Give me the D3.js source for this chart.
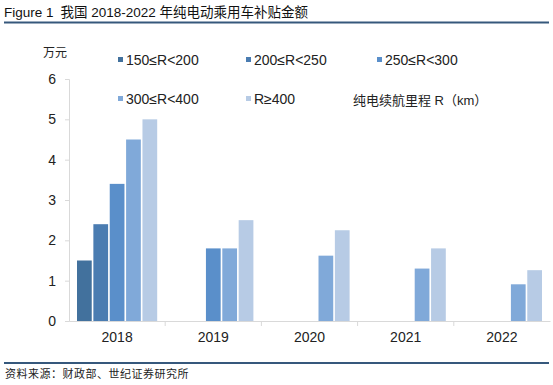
<!DOCTYPE html>
<html>
<head>
<meta charset="utf-8">
<script src="https://cdn.jsdelivr.net/npm/d3@7"></script>
<style>
  body { margin: 0; background: #fff; }
  text { font-family: "Liberation Sans", Arial, "Noto Sans CJK SC", sans-serif; white-space: pre; }
  .cjk { font-family: "Liberation Sans", "Noto Sans CJK SC", sans-serif; }
</style>
</head>
<body>
<div id="chart"></div>
<script>
// categories and series
const years = ['2018', '2019', '2020', '2021', '2022'];
const seriesNames = ['150≤R<200', '200≤R<250', '250≤R<300', '300≤R<400', 'R≥400'];
const seriesColors = ['#42719d', '#4a7cb1', '#5a8fca', '#80a9d9', '#b7cbe5'];
// subsidy (万元) per year, one array per range
const r150 = [1.5, 0, 0, 0, 0];
const r200 = [2.4, 0, 0, 0, 0];
const r250 = [3.4, 1.8, 0, 0, 0];
const r300 = [4.5, 1.8, 1.62, 1.3, 0.91];
const r400 = [5.0, 2.5, 2.25, 1.8, 1.26];
const yTicks = [0, 1, 2, 3, 4, 5, 6];

const width = 553, height = 385;
const margin = {top: 79, right: 3, bottom: 64, left: 69};
const cWidth = width - margin.left - margin.right;
const cHeight = height - margin.top - margin.bottom;

const svg = d3.select('#chart').append('svg')
  .attr('width', width).attr('height', height);

// header + footer
const title = svg.append('text').attr('x', 4).attr('y', 17)
  .attr('class', 'cjk').style('font-size', '13.5px').attr('fill', '#111');
title.append('tspan').text('Figure 1');
title.append('tspan').attr('dx', 7).text('我国 2018-2022 年纯电动乘用车补贴金额');
svg.append('line').attr('x1', 4).attr('x2', 549).attr('y1', 22.5).attr('y2', 22.5)
  .attr('stroke', '#36587c').attr('stroke-width', 2);
svg.append('line').attr('x1', 4).attr('x2', 549).attr('y1', 363).attr('y2', 363)
  .attr('stroke', '#36587c').attr('stroke-width', 2);
svg.append('text').attr('x', 5).attr('y', 378)
  .attr('class', 'cjk').style('font-size', '11px').style('letter-spacing', '0.5px').attr('fill', '#222')
  .text('资料来源：财政部、世纪证券研究所');

const g = svg.append('g').attr('transform', `translate(${margin.left},${margin.top})`);

const data = [r150, r200, r250, r300, r400];
const x0 = d3.scaleBand().domain(years).range([0, cWidth]);
const x1 = d3.scaleBand().domain(seriesNames).range([8, x0.bandwidth() - 8]).paddingInner(0.1);
const y = d3.scaleLinear().domain([0, 6]).range([cHeight, 0]);

// axes
const yAxis = g.append('g')
  .call(d3.axisLeft(y).tickValues(yTicks).tickFormat(d3.format('d')).tickSize(4).tickPadding(9));
yAxis.select('.domain').attr('stroke', '#d9d9d9');
yAxis.selectAll('line').attr('stroke', '#d9d9d9');
yAxis.selectAll('text').style('font-size', '14px').attr('fill', '#222');

// bars
years.forEach((yr, i) => {
  const grp = g.append('g').attr('transform', `translate(${x0(yr)},0)`);
  seriesNames.forEach((s, j) => {
    const v = data[j][i];
    if (!v) return;
    grp.append('rect')
      .attr('x', x1(s)).attr('width', x1.bandwidth())
      .attr('y', y(v)).attr('height', y(0) - y(v))
      .attr('fill', seriesColors[j]);
  });
});

const xAxis = g.append('g').attr('transform', `translate(0,${cHeight})`)
  .call(d3.axisBottom(x0).tickSize(0).tickPadding(11));
xAxis.select('.domain').attr('stroke', '#d9d9d9');
xAxis.selectAll('text').style('font-size', '14px').attr('fill', '#222');
years.forEach((yr, i) => {
  if (i === 0) return;
  xAxis.append('line').attr('x1', x0(yr)).attr('x2', x0(yr))
    .attr('y1', 0).attr('y2', 5).attr('stroke', '#d9d9d9');
});

// unit label
svg.append('text').attr('x', 43).attr('y', 57)
  .attr('class', 'cjk').style('font-size', '12px').attr('fill', '#222')
  .text('万元');

// legend
const legendPos = [[118, 60], [246, 60], [377, 60], [118, 99], [246, 99]];
seriesNames.forEach((s, j) => {
  const [lx, ly] = legendPos[j];
  svg.append('rect').attr('x', lx).attr('y', ly - 3).attr('width', 5).attr('height', 5)
    .attr('fill', seriesColors[j]);
  svg.append('text').attr('x', lx + 8).attr('y', ly + 5)
    .style('font-size', '14px').attr('fill', '#222').text(s);
});
svg.append('text').attr('x', 353).attr('y', 105)
  .attr('class', 'cjk').style('font-size', '13px').attr('fill', '#222')
  .text('纯电续航里程 R（km）');
</script>
</body>
</html>
